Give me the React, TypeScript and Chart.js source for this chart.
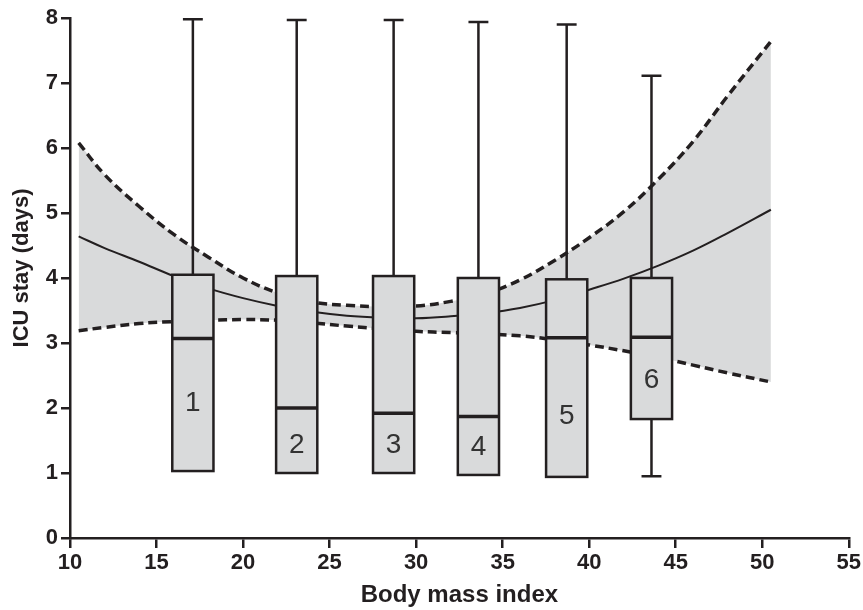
import React, { useEffect, useRef } from "react";
import { Chart, registerables } from "chart.js";
Chart.register(...registerables);

// Fitted curve and 95% CI band (BMI vs ICU stay)
const curveX = [10.5, 12, 14, 16, 18, 20, 22, 24, 26, 28, 30, 32, 34, 36, 38, 40, 42, 44, 46, 48, 50.5];
const fitY = [4.64, 4.46, 4.25, 4.03, 3.84, 3.69, 3.57, 3.48, 3.42, 3.39, 3.38, 3.41, 3.46, 3.54, 3.66, 3.82, 3.99, 4.19, 4.42, 4.69, 5.05];
const upperY = [6.08, 5.59, 5.1, 4.67, 4.32, 4.0, 3.77, 3.63, 3.58, 3.56, 3.57, 3.64, 3.76, 3.97, 4.27, 4.62, 5.02, 5.52, 6.1, 6.8, 7.64];
const lowerY = [3.19, 3.24, 3.3, 3.33, 3.35, 3.36, 3.35, 3.31, 3.26, 3.22, 3.18, 3.16, 3.14, 3.11, 3.05, 2.97, 2.88, 2.78, 2.66, 2.54, 2.4];

// Box plots
const boxLabels = ["1", "2", "3", "4", "5", "6"];
const boxCenter = [17.1, 23.1, 28.7, 33.6, 38.7, 43.6];
const boxQ1 = [1.03, 1.0, 1.0, 0.97, 0.94, 1.83];
const boxMedian = [3.07, 2.0, 1.92, 1.87, 3.08, 3.09];
const boxQ3 = [4.05, 4.03, 4.03, 4.0, 3.98, 4.0];
const whiskerMin = [1.03, 1.0, 1.0, 0.97, 0.94, 0.95];
const whiskerMax = [7.98, 7.97, 7.97, 7.94, 7.9, 7.11];
const labelY = [2.08, 1.43, 1.43, 1.39, 1.88, 2.43];

const xTicks = [10, 15, 20, 25, 30, 35, 40, 45, 50, 55];
const yTicks = [0, 1, 2, 3, 4, 5, 6, 7, 8];
const xTitle = "Body mass index";
const yTitle = "ICU stay (days)";

const INK = "#231f20";
const GRAY = "#d9dadb";
const FONT = "Arial, 'Liberation Sans', Helvetica, sans-serif";

export default function App() {
  const ref = useRef<HTMLCanvasElement>(null);
  useEffect(() => {
    document.body.style.margin = "0";
    const pts = (ys: number[]) => curveX.map((x, i) => ({ x, y: ys[i] }));
    const boxWidth = 2.38;
    const capWidth = 1.15;
    const boxPlugin = {
      id: "boxPlots",
      afterDatasetsDraw(chart: any) {
        const { ctx } = chart;
        const xs = chart.scales.x;
        const ys = chart.scales.y;
        ctx.save();
        ctx.strokeStyle = INK;
        ctx.lineCap = "butt";
        for (let i = 0; i < boxCenter.length; i++) {
          const cx = xs.getPixelForValue(boxCenter[i]);
          const l = xs.getPixelForValue(boxCenter[i] - boxWidth / 2);
          const r = xs.getPixelForValue(boxCenter[i] + boxWidth / 2);
          const cl = xs.getPixelForValue(boxCenter[i] - capWidth / 2);
          const cr = xs.getPixelForValue(boxCenter[i] + capWidth / 2);
          const top = ys.getPixelForValue(boxQ3[i]);
          const bot = ys.getPixelForValue(boxQ1[i]);
          const wMax = ys.getPixelForValue(whiskerMax[i]);
          const wMin = ys.getPixelForValue(whiskerMin[i]);
          ctx.lineWidth = 2.5;
          ctx.beginPath();
          ctx.moveTo(cx, top);
          ctx.lineTo(cx, wMax);
          ctx.moveTo(cl, wMax);
          ctx.lineTo(cr, wMax);
          if (whiskerMin[i] < boxQ1[i]) {
            ctx.moveTo(cx, bot);
            ctx.lineTo(cx, wMin);
            ctx.moveTo(cl, wMin);
            ctx.lineTo(cr, wMin);
          }
          ctx.stroke();
          ctx.fillStyle = GRAY;
          ctx.fillRect(l, top, r - l, bot - top);
          ctx.lineWidth = 2.5;
          ctx.strokeRect(l, top, r - l, bot - top);
          const med = ys.getPixelForValue(boxMedian[i]);
          ctx.lineWidth = 3.5;
          ctx.beginPath();
          ctx.moveTo(l, med);
          ctx.lineTo(r, med);
          ctx.stroke();
          ctx.fillStyle = "#333333";
          ctx.font = `28px ${FONT}`;
          ctx.textAlign = "center";
          ctx.textBaseline = "middle";
          ctx.fillText(boxLabels[i], cx, ys.getPixelForValue(labelY[i]));
        }
        ctx.restore();
      },
      afterDraw(chart: any) {
        const { ctx, chartArea } = chart;
        ctx.save();
        ctx.translate(22, (chartArea.top + chartArea.bottom) / 2 - 10);
        ctx.rotate(-Math.PI / 2);
        ctx.fillStyle = INK;
        ctx.font = `bold 22px ${FONT}`;
        ctx.textAlign = "center";
        ctx.textBaseline = "middle";
        ctx.fillText(yTitle, 0, 0);
        ctx.restore();
      },
    };

    const chart = new Chart(ref.current!, {
      type: "line",
      data: {
        datasets: [
          {
            label: "Upper CI",
            data: pts(upperY),
            borderColor: INK,
            borderWidth: 3.5,
            borderDash: [9, 5],
            pointRadius: 0,
            tension: 0.4,
            fill: 1,
            backgroundColor: GRAY,
          },
          {
            label: "Lower CI",
            data: pts(lowerY),
            borderColor: INK,
            borderWidth: 3.5,
            borderDash: [9, 5],
            pointRadius: 0,
            tension: 0.4,
            fill: false,
          },
          {
            label: "Fit",
            data: pts(fitY),
            borderColor: INK,
            borderWidth: 2,
            pointRadius: 0,
            tension: 0.4,
            fill: false,
          },
        ],
      },
      options: {
        responsive: false,
        animation: false,
        layout: { padding: { top: 18, right: 13, left: 0, bottom: 0 } },
        plugins: {
          legend: { display: false },
          tooltip: { enabled: false },
          filler: { drawTime: "beforeDatasetsDraw" },
        } as any,
        scales: {
          x: {
            type: "linear",
            min: 10,
            max: 55,
            afterBuildTicks: (s: any) => {
              s.ticks = xTicks.map((v) => ({ value: v }));
            },
            afterFit: (s: any) => {
              s.height = 72;
            },
            ticks: { color: INK, font: { family: FONT, size: 22, weight: "bold" }, padding: 2, maxRotation: 0 },
            grid: { drawOnChartArea: false, drawTicks: true, tickLength: 10, color: INK, lineWidth: 2.5 },
            border: { display: true, color: INK, width: 2.5 },
            title: {
              display: true,
              text: xTitle,
              color: INK,
              font: { family: FONT, size: 24, weight: "bold" },
              padding: { top: 0, bottom: 0 },
            },
          },
          y: {
            type: "linear",
            min: 0,
            max: 8,
            afterBuildTicks: (s: any) => {
              s.ticks = yTicks.map((v) => ({ value: v }));
            },
            afterFit: (s: any) => {
              s.width = 70;
            },
            ticks: { color: INK, font: { family: FONT, size: 22, weight: "bold" }, padding: 3 },
            grid: { drawOnChartArea: false, drawTicks: true, tickLength: 9, color: INK, lineWidth: 2.5 },
            border: { display: true, color: INK, width: 2.5 },
            title: { display: false },
          },
        },
      } as any,
      plugins: [boxPlugin],
    });
    return () => chart.destroy();
  }, []);
  return (
    <div style={{ width: 863, height: 610 }}>
      <canvas ref={ref} width={863} height={610} />
    </div>
  );
}
